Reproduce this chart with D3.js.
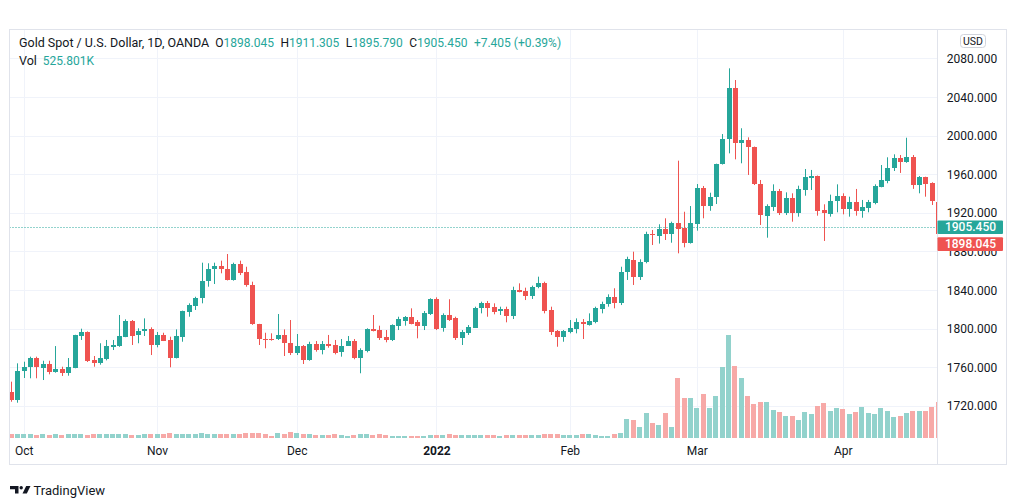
<!DOCTYPE html>
<html>
<head>
<meta charset="utf-8">
<script src="https://cdn.jsdelivr.net/npm/d3@7"></script>
<style>
  html, body { margin: 0; padding: 0; background: #ffffff; }
  svg { display: block; font-family: Roboto, "Noto Sans", sans-serif; }
</style>
</head>
<body>
<svg id="chart" width="1012" height="501"></svg>
<script>
// ---------------- DATA ----------------
const open = [
1734.5,1725.9,1756.3,1760.4,1769.7,1759.4,1762.9,1755.2,1757.7,1753.6,
1759.4,1792.2,1796.4,1767.4,1763.9,1768.1,1781.1,1781.8,1791.5,1808.1,
1792.9,1797.7,1799.1,1782.9,1792.9,1788.1,1769.7,1791.5,1817.4,1823.3,
1831.3,1849.2,1861.3,1864.8,1861.3,1850.3,1866.8,1858.9,1845.1,1804.3,
1789.4,1789.4,1788.8,1792.9,1784.7,1774.3,1781.8,1767.4,1783.6,1777.7,
1783.9,1782.9,1775.3,1782.2,1787.0,1769.7,1776.7,1799.5,1798.4,1791.5,
1788.1,1802.9,1808.1,1812.2,1806.4,1802.6,1814.7,1830.3,1800.2,1814.0,
1810.5,1790.5,1795.6,1800.8,1820.9,1826.7,1822.6,1818.5,1819.9,1812.9,
1839.9,1838.9,1834.0,1842.7,1847.5,1819.2,1797.4,1791.5,1796.7,1799.5,
1807.0,1803.6,1807.0,1819.9,1825.1,1832.3,1826.1,1858.9,1871.0,1853.0,
1869.2,1897.9,1896.2,1903.1,1897.9,1909.0,1903.8,1888.3,1908.3,1945.3,
1926.9,1935.9,1970.5,1996.1,2049.5,1991.9,1995.3,1987.8,1949.4,1916.9,
1926.2,1942.5,1919.4,1935.5,1919.4,1943.5,1956.2,1958.0,1922.8,1918.6,
1932.1,1937.3,1923.8,1931.4,1921.8,1925.2,1929.7,1946.9,1952.8,1966.0,
1977.0,1972.2,1977.4,1948.7,1956.7,1950.5,1931.4,1898.045];

const high = [
1744.9,1763.9,1765.6,1770.8,1770.8,1766.6,1766.6,1781.8,1760.4,1769.4,
1793.5,1799.8,1797.0,1771.5,1784.7,1788.1,1788.1,1814.0,1809.5,1808.8,
1800.2,1810.5,1801.2,1796.4,1795.6,1791.5,1799.1,1818.5,1826.1,1832.9,
1868.2,1867.6,1868.2,1870.3,1877.2,1868.2,1870.3,1864.0,1848.5,1804.8,
1795.6,1795.0,1815.0,1799.1,1808.8,1794.3,1782.9,1786.3,1787.0,1787.0,
1793.3,1788.1,1789.1,1792.2,1789.1,1779.5,1800.2,1814.0,1802.9,1798.4,
1804.3,1812.2,1812.9,1820.9,1808.8,1818.1,1831.3,1832.3,1815.7,1830.3,
1812.2,1798.4,1803.6,1822.6,1827.8,1828.5,1826.1,1822.6,1822.6,1843.3,
1846.8,1842.3,1844.4,1853.7,1848.5,1822.6,1798.4,1798.4,1808.8,1810.5,
1809.8,1815.7,1822.6,1827.8,1835.4,1841.7,1864.0,1874.4,1879.6,1871.7,
1900.3,1902.1,1908.0,1914.2,1910.7,1973.9,1921.0,1926.9,1949.7,1947.7,
1940.7,1970.8,2001.5,2069.6,2057.5,2007.5,1998.1,1988.5,1953.9,1928.7,
1949.4,1944.6,1941.1,1940.1,1948.0,1965.3,1964.3,1958.5,1928.7,1938.7,
1949.4,1940.1,1936.6,1944.6,1933.2,1933.2,1949.4,1969.4,1977.4,1980.5,
1979.8,1997.7,1979.8,1958.0,1957.3,1951.5,1932.5,1911.305];

const low = [
1724.1,1723.1,1748.7,1748.4,1748.4,1746.6,1752.5,1754.2,1750.8,1751.1,
1758.8,1788.1,1765.3,1760.4,1762.5,1767.0,1777.7,1781.0,1791.0,1782.9,
1784.7,1792.2,1772.5,1780.5,1787.0,1759.8,1769.0,1786.3,1812.2,1819.2,
1826.1,1843.3,1846.1,1857.2,1849.8,1849.6,1855.4,1843.3,1803.8,1782.9,
1779.5,1787.4,1788.1,1771.5,1772.5,1772.5,1763.2,1766.6,1776.0,1773.2,
1780.1,1773.2,1770.8,1782.0,1768.1,1753.6,1775.3,1797.0,1788.1,1785.7,
1787.0,1798.4,1802.9,1804.3,1789.8,1798.4,1814.0,1798.4,1796.7,1807.8,
1788.1,1782.9,1793.3,1800.5,1815.7,1812.2,1814.7,1814.0,1806.4,1809.8,
1837.5,1829.5,1830.6,1841.7,1815.7,1793.3,1781.1,1786.3,1795.0,1795.0,
1789.1,1803.0,1805.4,1815.7,1822.6,1820.9,1824.3,1850.3,1845.1,1850.3,
1867.6,1886.5,1888.0,1891.7,1888.9,1877.9,1884.1,1888.0,1901.4,1914.2,
1922.0,1929.0,1969.9,1981.5,1975.3,1971.2,1959.1,1948.7,1907.3,1894.1,
1921.8,1917.6,1917.6,1910.7,1915.9,1937.6,1943.5,1916.9,1890.7,1915.9,
1920.4,1918.3,1915.9,1916.9,1914.8,1920.4,1928.7,1946.3,1950.5,1963.2,
1961.2,1971.7,1944.7,1940.1,1936.6,1928.0,1895.8,1895.79];

const close = [
1725.9,1756.3,1760.4,1769.7,1759.8,1763.2,1755.2,1757.7,1754.2,1759.8,
1792.9,1796.4,1766.3,1763.9,1769.7,1781.8,1782.9,1792.2,1808.1,1792.2,
1797.7,1799.1,1782.9,1792.9,1787.4,1769.7,1792.2,1818.1,1824.3,1831.3,
1849.2,1861.3,1864.8,1861.3,1850.3,1866.8,1857.8,1845.1,1804.3,1788.8,
1788.8,1788.8,1792.9,1784.7,1774.3,1781.8,1767.4,1783.9,1777.7,1783.9,
1782.2,1774.3,1782.2,1787.0,1769.7,1777.4,1799.5,1797.4,1789.8,1788.1,
1803.6,1809.5,1812.2,1805.0,1802.6,1815.7,1830.3,1799.5,1814.0,1808.8,
1790.5,1796.7,1801.8,1821.5,1826.1,1821.5,1817.4,1820.2,1812.9,1839.9,
1838.1,1834.0,1843.3,1847.5,1818.5,1796.7,1791.5,1797.4,1800.8,1807.0,
1804.3,1807.8,1820.9,1825.1,1832.9,1826.1,1858.9,1871.7,1853.0,1869.2,
1897.9,1896.6,1903.1,1897.9,1909.0,1903.1,1888.3,1909.0,1945.3,1926.9,
1935.9,1970.5,1996.1,2049.5,1991.9,1995.3,1987.8,1949.4,1917.6,1926.9,
1942.5,1919.4,1934.9,1919.4,1944.6,1956.7,1958.0,1921.8,1919.4,1932.1,
1937.3,1923.8,1931.4,1921.8,1925.6,1930.8,1947.7,1953.9,1966.6,1977.0,
1972.2,1977.4,1948.7,1956.7,1949.7,1932.1,1898.045,1905.45];

// volume in thousands
const volume = [
22,22,22,22,18,22,18,22,18,22,
23,22,18,23,20,20,20,22,20,18,
18,23,23,20,20,25,23,22,20,20,
28,22,22,20,22,20,23,25,28,25,
20,12,25,23,32,27,23,23,18,18,
18,20,18,12,17,20,20,18,20,17,
12,12,12,12,12,12,15,18,18,20,
15,15,18,17,17,17,17,12,17,17,
17,17,17,17,23,23,23,17,17,17,
23,23,17,12,12,23,28,97,92,58,
128,78,67,125,58,300,200,203,153,220,
153,213,358,517,363,300,213,173,183,183,
142,133,113,113,92,133,120,163,178,137,
150,145,120,133,158,125,120,153,138,105,
112,125,138,138,138,158,183,525.801];

const monthLabels = ["Oct", "Nov", "Dec", "2022", "Feb", "Mar", "Apr"];
const monthBarIndex = [2, 23, 45, 67, 88, 108, 131];
const priceTicks = [1720, 1760, 1800, 1840, 1880, 1920, 1960, 2000, 2040, 2080];
const symbolTitle = "Gold Spot / U.S. Dollar, 1D, OANDA";
const currency = "USD";

// ---------------- LAYOUT ----------------
const UP = "#26a69a", DOWN = "#ef5350";
const UPV = "#92d2cc", DOWNV = "#f7a9a7";
const TEXT = "#131722", GRID = "#f0f3fa", FRAME = "#e0e3eb";
const frame = {l: 9.5, t: 29.5, r: 1006.5, b: 464.5};
const axisX = 937.5;     // price axis separator
const paneBottom = 438.5;

const svg = d3.select("#chart");
const n = close.length;
const idx = d3.range(n);

const x = d3.scaleLinear().domain([0, 147]).range([11, 11 + 6.35 * 147]);
const y = d3.scaleLinear().domain([1720, 2080]).range([405.7, 58.3]);
const v = d3.scaleLinear().domain([0, 600]).range([438.3, 318.3]);

svg.append("rect").attr("width", 1012).attr("height", 501).attr("fill", "#fff");

svg.append("defs").append("clipPath").attr("id", "plotclip")
  .append("rect").attr("x", frame.l).attr("y", frame.t)
  .attr("width", axisX - frame.l).attr("height", paneBottom - frame.t);

// grid
const grid = svg.append("g").attr("clip-path", "url(#plotclip)");
grid.selectAll("line.h").data(priceTicks).join("line")
  .attr("x1", frame.l).attr("x2", axisX)
  .attr("y1", d => Math.round(y(d)) + 0.5).attr("y2", d => Math.round(y(d)) + 0.5)
  .attr("stroke", GRID).attr("stroke-width", 1);
grid.selectAll("line.v").data(monthBarIndex).join("line")
  .attr("x1", d => Math.round(x(d)) + 0.5).attr("x2", d => Math.round(x(d)) + 0.5)
  .attr("y1", frame.t).attr("y2", paneBottom)
  .attr("stroke", GRID).attr("stroke-width", 1);

const plot = svg.append("g").attr("clip-path", "url(#plotclip)");

// volume bars
plot.append("g").selectAll("rect").data(idx).join("rect")
  .attr("x", i => x(i) - 2.5)
  .attr("width", 5)
  .attr("y", i => v(volume[i]))
  .attr("height", i => v(0) - v(volume[i]))
  .attr("fill", i => close[i] >= open[i] ? UPV : DOWNV)
  .attr("shape-rendering", "crispEdges");

// price line (dotted)
plot.append("line")
  .attr("x1", frame.l).attr("x2", axisX)
  .attr("y1", Math.round(y(close[n - 1])) + 0.5).attr("y2", Math.round(y(close[n - 1])) + 0.5)
  .attr("stroke", UP).attr("stroke-width", 1).attr("stroke-dasharray", "1 2");

// wicks
plot.append("g").selectAll("line").data(idx).join("line")
  .attr("x1", i => Math.round(x(i)) + 0.5).attr("x2", i => Math.round(x(i)) + 0.5)
  .attr("y1", i => y(high[i])).attr("y2", i => y(low[i]))
  .attr("stroke", i => close[i] >= open[i] ? UP : DOWN)
  .attr("stroke-width", 1);

// bodies
plot.append("g").selectAll("rect").data(idx).join("rect")
  .attr("x", i => Math.round(x(i)) + 0.5 - 2.5)
  .attr("width", 5)
  .attr("y", i => y(Math.max(open[i], close[i])))
  .attr("height", i => Math.max(1, Math.abs(y(open[i]) - y(close[i]))))
  .attr("fill", i => close[i] >= open[i] ? UP : DOWN)
  .attr("shape-rendering", "crispEdges");

// frame
svg.append("rect").attr("x", frame.l).attr("y", frame.t)
  .attr("width", frame.r - frame.l).attr("height", frame.b - frame.t)
  .attr("fill", "none").attr("stroke", FRAME);
svg.append("line").attr("x1", axisX).attr("x2", axisX)
  .attr("y1", frame.t).attr("y2", frame.b).attr("stroke", FRAME);

// price axis
const yAxis = d3.axisRight(y).tickValues(priceTicks).tickSize(0)
  .tickFormat(d3.format(".3f"));
const ya = svg.append("g").attr("transform", "translate(972,0)").call(yAxis);
ya.select(".domain").remove();
ya.selectAll("text").attr("x", 0).attr("text-anchor", "middle")
  .attr("dy", "0.35em")
  .attr("fill", TEXT).style("font-size", "12px").style("font-family", "Roboto, sans-serif");

// time axis
const xAxis = d3.axisBottom(x).tickValues(monthBarIndex).tickSize(0)
  .tickFormat((d, i) => monthLabels[i]);
const xa = svg.append("g").attr("transform", "translate(0,446)").call(xAxis);
xa.select(".domain").remove();
xa.selectAll("text").attr("y", 0).attr("dy", "0.71em")
  .attr("fill", TEXT).style("font-size", "12px").style("font-family", "Roboto, sans-serif")
  .style("font-weight", (d, i) => monthLabels[i] === "2022" ? "bold" : "normal");

// last price labels
const lastY = y(close[n - 1]);
const lbl = svg.append("g").style("font-family", "Roboto, sans-serif").style("font-size", "12px");
const prevY = lastY + 17.3;
lbl.append("rect").attr("x", axisX).attr("y", prevY - 6.7).attr("width", 65.5).attr("height", 13.6)
  .attr("fill", DOWN).attr("rx", 1);
lbl.append("text").attr("x", 970.5).attr("y", prevY).attr("dy", "0.35em")
  .attr("text-anchor", "middle").attr("fill", "#fff").style("font-weight", 500)
  .text(d3.format(".3f")(open[n - 1]));
lbl.append("rect").attr("x", axisX).attr("y", lastY - 6.3).attr("width", 65.5).attr("height", 13.6)
  .attr("fill", UP).attr("rx", 1);
lbl.append("text").attr("x", 970.5).attr("y", lastY + 0.5).attr("dy", "0.35em")
  .attr("text-anchor", "middle").attr("fill", "#fff").style("font-weight", 500)
  .text(d3.format(".3f")(close[n - 1]));

// currency box
svg.append("rect").attr("x", 960.5).attr("y", 34.5).attr("width", 25).attr("height", 13)
  .attr("rx", 3).attr("fill", "#fff").attr("stroke", "#d1d4dc");
svg.append("text").attr("x", 973).attr("y", 41).attr("dy", "0.35em")
  .attr("text-anchor", "middle").attr("fill", TEXT).style("font-size", "10.5px")
  .text(currency);

// header legend
const f3 = d3.format(".3f");
const last = n - 1;
const chg = close[last] - close[last - 1];
const pct = chg / close[last - 1] * 100;
const hdr = svg.append("text").attr("x", 19).attr("y", 47)
  .style("font-size", "12.5px").attr("fill", TEXT);
hdr.append("tspan").text(symbolTitle);
[["O", open[last]], ["H", high[last]], ["L", low[last]], ["C", close[last]]].forEach(([k, val], j) => {
  hdr.append("tspan").attr("dx", j === 0 ? 6 : 6.5).attr("fill", TEXT).style("font-size", "12px").text(k);
  hdr.append("tspan").attr("fill", UP).style("font-size", "12px").text(f3(val));
});
hdr.append("tspan").attr("dx", 6.5).attr("fill", UP).style("font-size", "12px")
  .text((chg >= 0 ? "+" : "") + f3(chg) + " (" + (pct >= 0 ? "+" : "") + pct.toFixed(2) + "%)");

const vh = svg.append("text").attr("x", 19).attr("y", 64.5)
  .style("font-size", "12.5px").attr("fill", TEXT);
vh.append("tspan").text("Vol");
vh.append("tspan").attr("dx", 6).attr("fill", UP).style("font-size", "12px").text(f3(volume[last]) + "K");

// TradingView logo
const logo = svg.append("g").attr("transform", "translate(10,486)").attr("fill", TEXT);
logo.append("path").attr("d", "M0,0 H8.5 V7.5 H5 V3.2 H0 Z");
logo.append("circle").attr("cx", 11.2).attr("cy", 1.7).attr("r", 1.7);
logo.append("path").attr("d", "M16.2,0 H20.5 L16.8,7.5 H12.5 Z");
svg.append("text").attr("x", 33.5).attr("y", 490.3).attr("dy", "0.35em")
  .attr("fill", TEXT).style("font-size", "13px").text("TradingView");
</script>
</body>
</html>
